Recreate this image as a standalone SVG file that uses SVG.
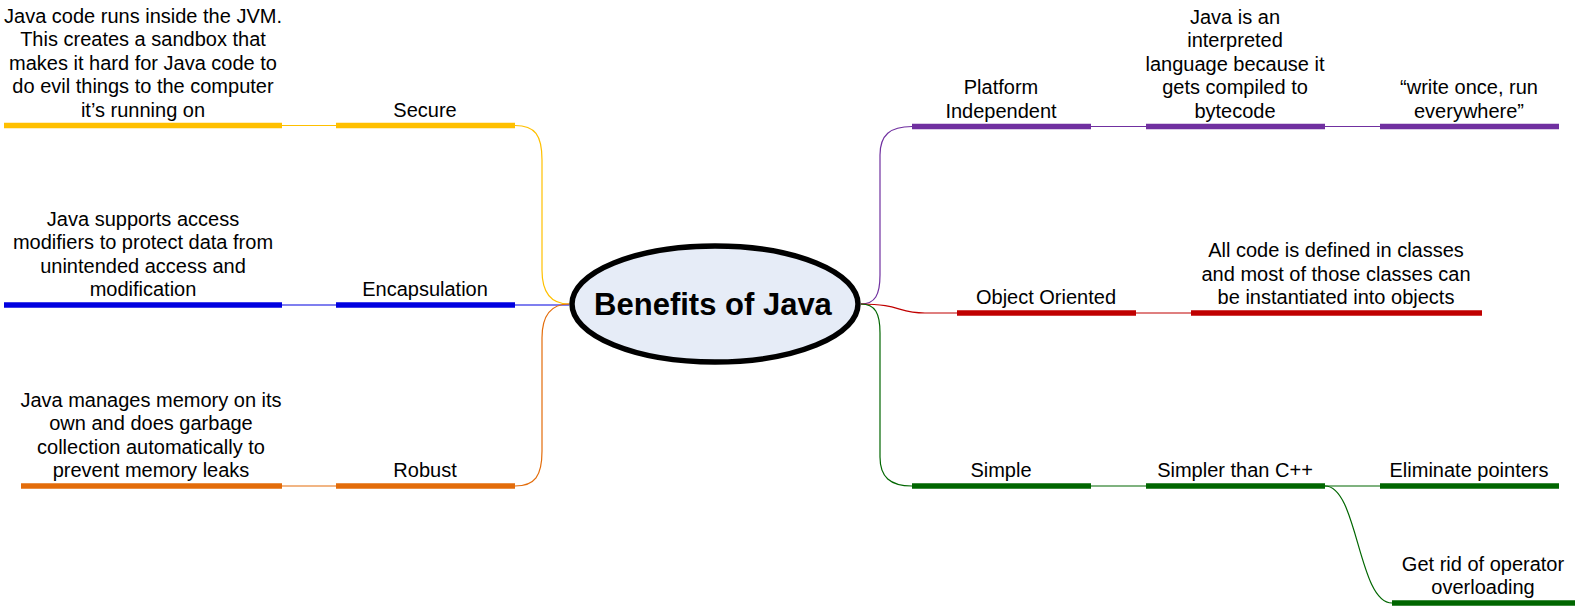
<svg xmlns="http://www.w3.org/2000/svg" width="1575" height="608" viewBox="0 0 1575 608">
<style>
text{font-family:"Liberation Sans",Arial,sans-serif;font-size:20px;fill:#000;text-anchor:middle}
.title{font-size:31px;font-weight:bold}
.bar{stroke-width:5.5;fill:none}
.c{stroke-width:1.2;fill:none}
.y{stroke:#FFC000}.b{stroke:#0000E0}.o{stroke:#E36C0A}.p{stroke:#7030A0}.r{stroke:#C00000}.g{stroke:#006600}
</style>
<rect width="1575" height="608" fill="#fff"/>
<g id="connectors">
<path class="c y" d="M282,125.5 L336,125.5"/>
<path class="c y" d="M515,125.5 C535,125.5 542,135 542,160 L542,270 C542,295 553,304 569,304"/>
<path class="c b" d="M282,305 L336,305"/>
<path class="c b" d="M515,305 L569,305"/>
<path class="c o" d="M282,486 L336,486"/>
<path class="c o" d="M515,486 C535,486 542,476 542,451 L542,338 C542,313 553,304 569,304"/>
<path class="c p" d="M861,304 C875,304 880,295 880,275 L880,155 C880,135 890,126.5 912,126.5"/>
<path class="c p" d="M1091,126.5 L1146,126.5"/>
<path class="c p" d="M1325,126.5 L1380,126.5"/>
<path class="c r" d="M861,304 C900,304 898,313 925,313 L957,313"/>
<path class="c r" d="M1136,313 L1191,313"/>
<path class="c g" d="M861,304 C875,304 880,313 880,333 L880,457 C880,477 890,486 912,486"/>
<path class="c g" d="M1091,486 L1146,486"/>
<path class="c g" d="M1325,486 L1380,486"/>
<path class="c g" d="M1325,486 C1358,486 1358,603 1392,603"/>
</g>
<g id="center">
<ellipse cx="715" cy="304" rx="143" ry="58" fill="#E6ECF7" stroke="#000" stroke-width="5.5"/>
<text class="title" x="713" y="315">Benefits of Java</text>
</g>
<g id="secure">
<path class="bar y" d="M336,125.5 L515,125.5"/>
<text x="425" y="116.5">Secure</text>
</g>
<g id="secure-detail">
<path class="bar y" d="M4,125.5 L282,125.5"/>
<text x="143" y="22.5">Java code runs inside the JVM.</text>
<text x="143" y="46">This creates a sandbox that</text>
<text x="143" y="69.5">makes it hard for Java code to</text>
<text x="143" y="93">do evil things to the computer</text>
<text x="143" y="116.5">it’s running on</text>
</g>
<g id="encapsulation">
<path class="bar b" d="M336,305 L515,305"/>
<text x="425" y="296">Encapsulation</text>
</g>
<g id="encapsulation-detail">
<path class="bar b" d="M4,305 L282,305"/>
<text x="143" y="225.5">Java supports access</text>
<text x="143" y="249">modifiers to protect data from</text>
<text x="143" y="272.5">unintended access and</text>
<text x="143" y="296">modification</text>
</g>
<g id="robust">
<path class="bar o" d="M336,486 L515,486"/>
<text x="425" y="477">Robust</text>
</g>
<g id="robust-detail">
<path class="bar o" d="M21,486 L282,486"/>
<text x="151" y="406.5">Java manages memory on its</text>
<text x="151" y="430">own and does garbage</text>
<text x="151" y="453.5">collection automatically to</text>
<text x="151" y="477">prevent memory leaks</text>
</g>
<g id="platform">
<path class="bar p" d="M912,126.5 L1091,126.5"/>
<text x="1001" y="94">Platform</text>
<text x="1001" y="117.5">Independent</text>
</g>
<g id="interpreted">
<path class="bar p" d="M1146,126.5 L1325,126.5"/>
<text x="1235" y="23.5">Java is an</text>
<text x="1235" y="47">interpreted</text>
<text x="1235" y="70.5">language because it</text>
<text x="1235" y="94">gets compiled to</text>
<text x="1235" y="117.5">bytecode</text>
</g>
<g id="write-once">
<path class="bar p" d="M1380,126.5 L1559,126.5"/>
<text x="1469" y="94">“write once, run</text>
<text x="1469" y="117.5">everywhere”</text>
</g>
<g id="object-oriented">
<path class="bar r" d="M957,313 L1136,313"/>
<text x="1046" y="304">Object Oriented</text>
</g>
<g id="classes">
<path class="bar r" d="M1191,313 L1482,313"/>
<text x="1336" y="257">All code is defined in classes</text>
<text x="1336" y="280.5">and most of those classes can</text>
<text x="1336" y="304">be instantiated into objects</text>
</g>
<g id="simple">
<path class="bar g" d="M912,486 L1091,486"/>
<text x="1001" y="477">Simple</text>
</g>
<g id="simpler">
<path class="bar g" d="M1146,486 L1325,486"/>
<text x="1235" y="477">Simpler than C++</text>
</g>
<g id="pointers">
<path class="bar g" d="M1380,486 L1559,486"/>
<text x="1469" y="477">Eliminate pointers</text>
</g>
<g id="overloading">
<path class="bar g" d="M1392,603 L1575,603"/>
<text x="1483" y="570.5">Get rid of operator</text>
<text x="1483" y="594">overloading</text>
</g>
</svg>
